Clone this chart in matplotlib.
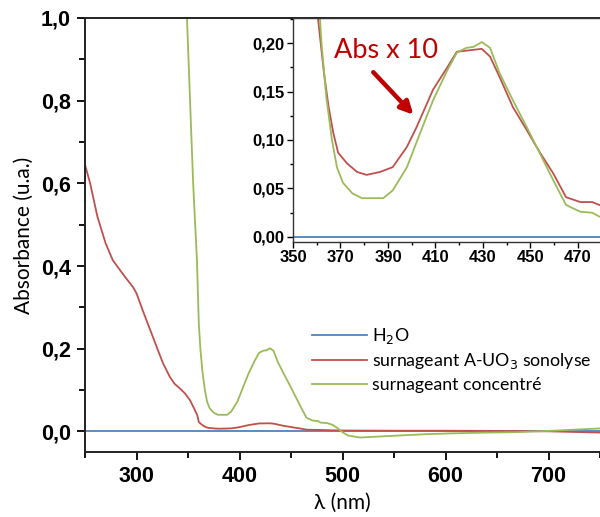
import matplotlib
matplotlib.use("Agg")
import matplotlib.pyplot as plt
from matplotlib.ticker import MultipleLocator, FuncFormatter

# data
wl_h2o = [250, 300, 350, 400, 450, 500, 550, 600, 650, 700, 750]
abs_h2o = [0.0, 0.0, 0.0, 0.0, 0.0, 0.0, 0.0, 0.0, 0.0, 0.0, 0.0]

wl_red = [250, 255, 262, 270, 277, 284, 290, 296.6, 300, 306, 311, 316, 321,
          325.7, 332.5, 337, 342, 347, 352, 356, 359, 360.5, 363, 365, 367, 369,
          372.7, 377, 381, 386.6, 392, 398, 402, 409, 415, 419, 426, 429.5,
          433, 437, 442.6, 448.5, 454, 459.5, 465, 471, 476, 479, 490, 500,
          550, 600, 650, 700, 750]
abs_red = [0.645, 0.60, 0.52, 0.455, 0.414, 0.39, 0.37, 0.349, 0.334, 0.293,
           0.26, 0.228, 0.195, 0.165, 0.131, 0.115, 0.104, 0.092, 0.075, 0.055,
           0.039, 0.0226, 0.017, 0.0134, 0.0107, 0.0087, 0.0076, 0.0067,
           0.0064, 0.0067, 0.0072, 0.0093, 0.0113, 0.0152, 0.0175, 0.0191,
           0.0193, 0.0194, 0.0186, 0.0165, 0.0134, 0.0110, 0.0087, 0.0066,
           0.0041, 0.0036, 0.0036, 0.0033, 0.0025, 0.002, 0.0015, 0.0015,
           0.001, 0.0, -0.003]

wl_green = [340, 345, 349, 352, 355, 358.7, 360.5, 362, 364, 366.4, 368.5, 371,
            375, 379, 388, 392, 398, 403.5, 409, 415, 419, 423, 426, 429.5, 433,
            437, 442.6, 448.5, 454, 459.5, 465, 471, 476, 479, 485, 490, 495,
            500, 505, 517, 540, 556, 580, 604, 640, 669, 700, 750]
abs_green = [1.6, 1.2, 1.0, 0.8, 0.6, 0.414, 0.26, 0.2, 0.145, 0.100, 0.072,
             0.056, 0.045, 0.040, 0.040, 0.048, 0.072, 0.107, 0.141, 0.172,
             0.190, 0.195, 0.196, 0.201, 0.195, 0.169, 0.141, 0.113, 0.086,
             0.059, 0.033, 0.026, 0.025, 0.021, 0.020, 0.016, 0.008, -0.002,
             -0.010, -0.015, -0.012, -0.010, -0.007, -0.005, -0.003, -0.002,
             0.001, 0.007]

labels = ["H$_2$O", "surnageant A-UO$_3$ sonolyse", "surnageant concentré"]
inset_factor = 10

c_blue = "#4F81BD"
c_red = "#C0504D"
c_green = "#9BBB59"

comma = lambda fmt: FuncFormatter(lambda v, p: (fmt % v).replace(".", ","))
tick_font = "Liberation Sans"
text_font = "Lato"

fig = plt.figure(figsize=(6.0, 5.17), dpi=100)
W, H = 600, 517

ax = fig.add_axes([85 / W, (H - 452) / H, (600 - 85) / W, (452 - 18) / H])
ax.plot(wl_h2o, abs_h2o, color=c_blue, lw=1.3, label=labels[0])
ax.plot(wl_red, abs_red, color=c_red, lw=1.3, label=labels[1])
ax.plot(wl_green, abs_green, color=c_green, lw=1.3, label=labels[2])
ax.set_xlim(250, 750)
ax.set_ylim(-0.05, 1.0)
ax.xaxis.set_major_locator(MultipleLocator(100))
ax.xaxis.set_minor_locator(MultipleLocator(50))
ax.yaxis.set_major_locator(MultipleLocator(0.2))
ax.yaxis.set_minor_locator(MultipleLocator(0.1))
ax.yaxis.set_major_formatter(comma("%.1f"))
ax.tick_params(which="major", length=6, width=1.3, labelsize=15.5, pad=4)
ax.tick_params(which="minor", length=4, width=1.3)
for lab in ax.get_xticklabels() + ax.get_yticklabels():
    lab.set_fontfamily(tick_font)
    lab.set_fontweight("bold")
ax.spines["right"].set_visible(False)
for s in ["left", "bottom", "top"]:
    ax.spines[s].set_linewidth(1.4)
    ax.spines[s].set_color("#222222")
ax.set_xlabel("λ (nm)", fontsize=15, family=[text_font, "DejaVu Sans"], labelpad=4)
ax.set_ylabel("Absorbance (u.a.)", fontsize=15, family=text_font, labelpad=5)

leg = ax.legend(loc="upper left", bbox_to_anchor=(305 / W, (H - 319) / H),
                bbox_transform=fig.transFigure, frameon=False,
                prop={"family": text_font, "size": 12.8}, handlelength=3.1,
                handletextpad=0.25, labelspacing=0.3, borderaxespad=0)

# inset, red scaled x10
ax_in = fig.add_axes([293 / W, (H - 242) / H, (600 - 293) / W, (242 - 18) / H])
ax_in.plot(wl_h2o, abs_h2o, color=c_blue, lw=1.3)
ax_in.plot(wl_red, [v * inset_factor for v in abs_red], color=c_red, lw=1.3)
ax_in.plot(wl_green, abs_green, color=c_green, lw=1.3)
ax_in.set_xlim(350, 479.3)
ax_in.set_ylim(-0.0052, 0.2258)
ax_in.xaxis.set_major_locator(MultipleLocator(20, offset=10))
ax_in.xaxis.set_minor_locator(MultipleLocator(10))
ax_in.yaxis.set_major_locator(MultipleLocator(0.05))
ax_in.yaxis.set_minor_locator(MultipleLocator(0.025))
ax_in.yaxis.set_major_formatter(comma("%.2f"))
ax_in.tick_params(which="major", length=4, width=1.0, labelsize=12, pad=2)
ax_in.tick_params(which="minor", length=2.5, width=1.0)
for lab in ax_in.get_xticklabels() + ax_in.get_yticklabels():
    lab.set_fontfamily(tick_font)
    lab.set_fontweight("bold")
ax_in.spines["right"].set_visible(False)
for s in ["left", "bottom", "top"]:
    ax_in.spines[s].set_linewidth(1.0)
    ax_in.spines[s].set_color("#333333")

ax_in.text(389.3, 0.192, "Abs x 10", color="#C00000", fontsize=19.5,
           family=text_font, ha="center", va="center")
ax_in.annotate("", xy=(401.5, 0.124), xytext=(383, 0.172),
               arrowprops=dict(arrowstyle="-|>,head_length=0.75,head_width=0.38",
                               color="#C00000", lw=3.2))

fig.savefig("out.png", dpi=100)
